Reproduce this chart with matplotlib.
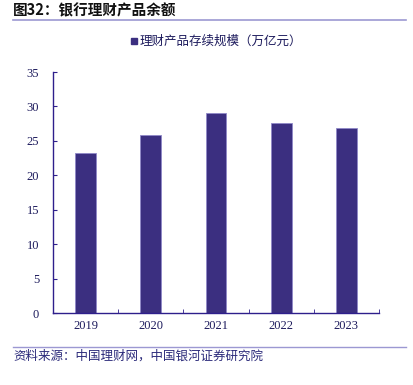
import matplotlib.pyplot as plt
from matplotlib.lines import Line2D

plt.rcParams['font.family'] = ['Noto Sans CJK SC', 'DejaVu Sans']

years = ['2019', '2020', '2021', '2022', '2023']
scale = [23.3, 25.8, 29.0, 27.6, 26.8]
yticks = [0, 5, 10, 15, 20, 25, 30, 35]

bar_color = '#3b2f80'
axis_color = '#2e1f8c'
text_color = '#1c1a5c'

fig = plt.figure(figsize=(4.13, 3.85), dpi=100)
ax = fig.add_axes([53 / 413, 1 - 313 / 385, 326 / 413, 241 / 385])

x = list(range(len(years)))
ax.bar(x, scale, width=0.32, color=bar_color, edgecolor='#8f88c8', linewidth=0.6)

ax.set_xlim(-0.5, len(years) - 0.5)
ax.set_ylim(0, 35)
ax.set_yticks(yticks)
ax.set_xticks(x)
ax.set_xticklabels(years)
ax.set_xticks([i + 0.5 for i in x], minor=True)

for side in ['top', 'right']:
    ax.spines[side].set_visible(False)
for side in ['left', 'bottom']:
    ax.spines[side].set_color(axis_color)
    ax.spines[side].set_linewidth(1.0)

ax.tick_params(axis='y', which='major', direction='in', length=3, color=axis_color,
               labelcolor=text_color, labelsize=9, pad=10)
ax.tick_params(axis='x', which='major', length=0, labelcolor=text_color, labelsize=9, pad=5)
ax.tick_params(axis='x', which='minor', direction='in', length=3, color=axis_color)
for lab in ax.get_xticklabels() + ax.get_yticklabels():
    lab.set_fontfamily('Liberation Serif')

# 图例
ax.legend(handles=[Line2D([], [], marker='s', color=bar_color, linestyle='none', markersize=5)],
          labels=['理财产品存续规模（万亿元）'], loc='upper center', bbox_to_anchor=(0.5, 1.2),
          frameon=False, fontsize=9, handlelength=0.5, handletextpad=0.2, labelcolor=text_color)

# 标题和分隔线
fig.text(13 / 413, 1 - 10 / 385, '图32：银行理财产品余额', fontsize=10.5, fontweight='heavy',
         color='#111111', va='center', ha='left')
fig.add_artist(Line2D([13 / 413, 406 / 413], [1 - 19.5 / 385, 1 - 19.5 / 385],
                      color='#9c98d2', linewidth=1.2))
fig.add_artist(Line2D([13 / 413, 406 / 413], [1 - 346.5 / 385, 1 - 346.5 / 385],
                      color='#9c98d2', linewidth=1.0))
fig.text(13 / 413, 1 - 356 / 385, '资料来源：中国理财网，中国银河证券研究院', fontsize=9,
         style='italic', color='#2b2a7a', va='center', ha='left')

fig.savefig('out.png', dpi=100)
